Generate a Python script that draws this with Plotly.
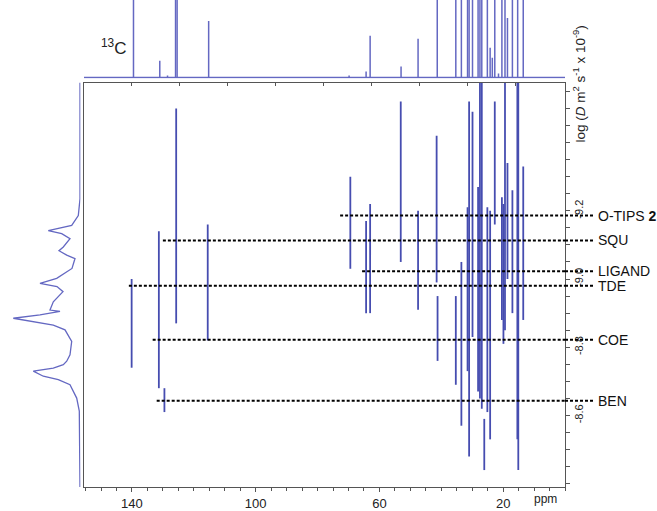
import plotly.graph_objects as go

W, H = 657, 511

# ---------------- data ----------------
# 2D DOSY cross peaks: 13C shift (ppm), top and bottom of the streak (log D)
peak_ppm = [140.1, 131.3, 129.5, 125.7, 115.5, 69.4, 64.3, 63.0, 53.1, 47.5,
            41.5, 41.2, 35.3, 33.5, 31.5, 31.0, 29.9, 28.1, 27.5, 26.9,
            26.1, 25.1, 24.2, 22.7, 20.4, 19.9, 19.4, 18.6, 17.0, 15.4,
            15.1, 13.5]
peak_top = [-9.00, -9.14, -8.68, -9.50, -9.16, -9.30, -9.17, -9.22, -9.52, -9.20,
            -9.42, -8.95, -8.95, -9.05, -9.21, -9.52, -9.49, -9.27, -9.60, -9.60,
            -8.59, -9.21, -9.20, -9.52, -9.24, -9.22, -9.60, -9.34, -9.26, -9.60,
            -9.60, -9.33]
peak_bot = [-8.74, -8.68, -8.61, -8.87, -8.82, -9.03, -8.90, -8.90, -9.05, -8.91,
            -8.99, -8.76, -8.69, -8.57, -8.73, -8.48, -8.83, -8.67, -8.65, -8.62,
            -8.44, -8.61, -8.53, -9.16, -8.88, -8.81, -8.85, -9.00, -8.90, -8.53,
            -8.44, -8.88]

# 1D 13C spectrum on top (peak position ppm, height in arbitrary units; >78 is off scale)
spec_ppm = [139.5, 131.0, 128.5, 125.9, 125.4, 115.2, 69.8, 64.3, 63.0, 53.0,
            47.5, 41.3, 35.3, 33.5, 31.5, 31.0, 29.9, 28.1, 27.5, 26.9,
            25.1, 24.2, 23.5, 22.7, 21.5, 20.4, 19.4, 18.6, 17.0, 15.3, 13.5]
spec_height = [120, 17, 2, 120, 120, 57, 2, 6, 42, 11,
               39, 120, 120, 120, 120, 120, 120, 120, 120, 120,
               120, 30, 20, 120, 4, 120, 120, 60, 120, 120, 120]

# 1D diffusion projection on the left (log D, intensity)
proj_logD = [-9.576, -9.235, -9.186, -9.157, -9.142, -9.133, -9.118, -9.094, -9.083,
             -9.070, -9.060, -9.031, -9.002, -8.987, -8.978, -8.963, -8.933, -8.909,
             -8.905, -8.895, -8.885, -8.875, -8.865, -8.851, -8.817, -8.778, -8.759,
             -8.749, -8.739, -8.730, -8.715, -8.705, -8.690, -8.651, -8.613, -8.390]
proj_int = [0, 0, 1.7, 8.3, 31.7, 18.3, 10, 16.7, 21, 13.3,
            5, 8, 23.3, 40, 23, 17, 26.7, 30, 20, 40,
            66.7, 46.7, 26.7, 15, 8.3, 10, 13.3, 16.7, 26.7, 46.7,
            36.7, 21.7, 10, 3.3, 0.7, 0]

# components marked by dashed lines
comp_names = ["O-TIPS <b>2</b>", "SQU", "LIGAND", "TDE", "COE", "BEN"]
comp_logD = [-9.186, -9.113, -9.023, -8.980, -8.822, -8.643]
comp_start_ppm = [72.7, 130.0, 65.6, 141.0, 133.3, 132.0]

x_tickvals = [140, 100, 60, 20]
y_tickvals = [-9.2, -9.0, -8.8, -8.6]
y_ticktext = ["-9.2", "-9.0", "-8.8", "-8.6"]
top_tickvals = [140, 124.5, 109, 93.5, 78, 62.5, 47, 31.5, 16]

X_RANGE = [155.5, 0]
Y_RANGE = [-8.39, -9.576]

# ---------------- geometry helpers ----------------
def fx(px):
    return px / W

def fy(py):
    return 1 - py / H

PLOT_L, PLOT_R, PLOT_T, PLOT_B = 84, 565, 83, 490

C2D = "#464db0"
C1D = "#6468c2"
AX = "#555555"
FONT = "Arial, Liberation Sans, sans-serif"

fig = go.Figure()

# 2D streaks
xs, ys = [], []
for p, t, b in zip(peak_ppm, peak_top, peak_bot):
    xs += [p, p, None]
    ys += [t, b, None]
fig.add_trace(go.Scatter(x=xs, y=ys, mode="lines", xaxis="x", yaxis="y",
                         line=dict(color=C2D, width=1.8), hoverinfo="skip"))

# top 1D spectrum
sx, sy = [X_RANGE[0], X_RANGE[1], None], [0, 0, None]
for p, h in zip(spec_ppm, spec_height):
    sx += [p, p, None]
    sy += [0, h, None]
fig.add_trace(go.Scatter(x=sx, y=sy, mode="lines", xaxis="x2", yaxis="y2",
                         line=dict(color=C1D, width=1.5), hoverinfo="skip"))

# left projection
fig.add_trace(go.Scatter(x=proj_int, y=proj_logD, mode="lines", xaxis="x3", yaxis="y3",
                         line=dict(color=C1D, width=1.3), hoverinfo="skip"))

# invisible trace to activate top tick axis
fig.add_trace(go.Scatter(x=[X_RANGE[0]], y=[Y_RANGE[0]], mode="markers", xaxis="x4", yaxis="y",
                         marker=dict(opacity=0), hoverinfo="skip"))

shapes = []
annotations = []
for name, ld, st in zip(comp_names, comp_logD, comp_start_ppm):
    shapes.append(dict(type="line", xref="x", yref="y", x0=st, x1=0, y0=ld, y1=ld,
                       line=dict(color="black", width=2, dash="3px,2px")))
    shapes.append(dict(type="line", xref="paper", yref="y", x0=fx(PLOT_R), x1=fx(595),
                       y0=ld, y1=ld, line=dict(color="black", width=2, dash="3px,2px")))
    annotations.append(dict(text=name, xref="paper", yref="y", x=fx(596), y=ld,
                            xanchor="left", yanchor="middle", showarrow=False,
                            font=dict(family=FONT, size=14, color="#111")))

annotations.append(dict(text="<sup>13</sup>C", xref="paper", yref="paper",
                        x=fx(99), y=fy(47), xanchor="left", yanchor="middle",
                        showarrow=False, font=dict(family=FONT, size=17, color="#222")))
annotations.append(dict(text="log (<i>D</i> m<sup>2</sup> s<sup>-1</sup> x 10<sup>-9</sup>)",
                        xref="paper", yref="paper", x=fx(579), y=fy(85),
                        xanchor="center", yanchor="middle", textangle=-90,
                        showarrow=False, font=dict(family=FONT, size=13.5, color="#222")))
annotations.append(dict(text="ppm", xref="paper", yref="paper", x=fx(545), y=fy(502),
                        xanchor="center", yanchor="middle", showarrow=False,
                        font=dict(family=FONT, size=12, color="#222")))

fig.update_layout(
    width=W, height=H, autosize=False,
    margin=dict(l=0, r=0, t=0, b=0),
    paper_bgcolor="white", plot_bgcolor="white",
    showlegend=False,
    shapes=shapes, annotations=annotations,
    xaxis=dict(domain=[fx(PLOT_L), fx(PLOT_R)], range=X_RANGE, anchor="y",
               showline=True, mirror=True, linecolor=AX, linewidth=1,
               showgrid=False, zeroline=False,
               ticks="outside", ticklen=4, tickcolor=AX, tickvals=x_tickvals,
               tickfont=dict(family=FONT, size=13, color="#222"),
               minor=dict(dtick=5, tick0=0, ticks="outside", ticklen=3, tickcolor=AX, showgrid=False)),
    yaxis=dict(domain=[fy(PLOT_B), fy(PLOT_T)], range=Y_RANGE, anchor="x", side="right",
               showline=True, mirror=True, linecolor=AX, linewidth=1,
               showgrid=False, zeroline=False,
               ticks="outside", ticklen=4, tickcolor=AX,
               tickmode="array", tickvals=y_tickvals, ticktext=y_ticktext, tickangle=-90,
               tickfont=dict(family=FONT, size=11, color="#222"),
               minor=dict(dtick=0.05, tick0=-9.2, ticks="outside", ticklen=4, tickcolor=AX, showgrid=False)),
    xaxis2=dict(domain=[fx(PLOT_L), fx(PLOT_R)], range=X_RANGE, anchor="y2", visible=False),
    yaxis2=dict(domain=[fy(79), 1], range=[-1, 78], anchor="x2", visible=False),
    xaxis3=dict(domain=[0, fx(80.5)], range=[80, -0.5], anchor="y3", visible=False),
    yaxis3=dict(domain=[fy(PLOT_B), fy(PLOT_T)], range=Y_RANGE, anchor="x3", visible=False),
    xaxis4=dict(overlaying="x", side="top", anchor="y", range=X_RANGE,
                tickmode="array", tickvals=top_tickvals, showticklabels=False,
                ticks="inside", ticklen=3, tickcolor=AX, showline=False,
                showgrid=False, zeroline=False),
)

fig.write_html("out.html", config={"displayModeBar": False},
               post_script="document.body.style.margin='0';document.body.style.padding='0';")
